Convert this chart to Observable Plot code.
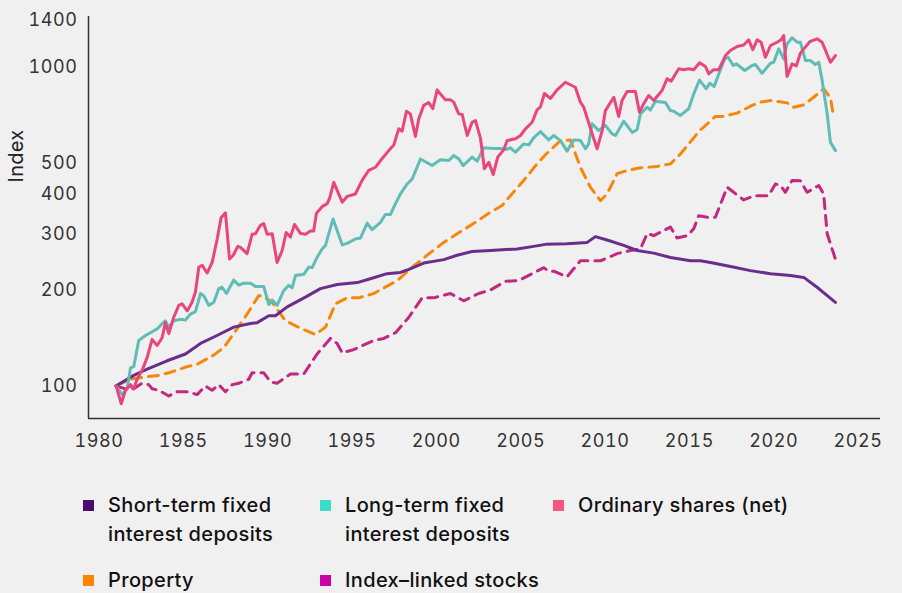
<!DOCTYPE html>
<html>
<head>
<meta charset="utf-8">
<script src="https://cdn.jsdelivr.net/npm/d3@7"></script>
<script src="https://cdn.jsdelivr.net/npm/@observablehq/plot@0.6"></script>
<style>
  html, body { margin: 0; padding: 0; background: #f0f0f0; }
  #wrap { position: relative; width: 902px; height: 593px; overflow: hidden; background: #f0f0f0; font-family: Inter, "Open Sans", sans-serif; }
  #ylab { position: absolute; left: 16px; top: 156px; transform: translate(-50%, -50%) rotate(-90deg); font-size: 20px; color: #222; white-space: nowrap; letter-spacing: 0.3px; }
  .lg { position: absolute; font-size: 20px; font-weight: 500; color: #111; line-height: 29px; letter-spacing: 0.35px; white-space: nowrap; }
  .sq { position: absolute; width: 11px; height: 11px; }
  #chart svg text { letter-spacing: 0.6px; }
</style>
</head>
<body>
<div id="wrap">
  <div id="chart"></div>
  <div id="ylab">Index</div>
  <div id="legend"></div>
</div>
<script>
// ---- Tick labels ----
const xTicks = [1980, 1985, 1990, 1995, 2000, 2005, 2010, 2015, 2020, 2025];
const yTicks = [100, 200, 300, 400, 500, 1000, 1400];

// ---- Series: Short-term fixed interest deposits ----
const shortYears = [1981.0,1982.06,1982.86,1984.04,1985.13,1986.02,1987.0,1987.99,1988.98,1989.38,1990.07,1990.46,1991.16,1992.24,1993.13,1994.12,1995.31,1996.09,1997.08,1997.87,1998.27,1999.25,2000.44,2001.23,2002.12,2003.21,2004.79,2005.77,2006.47,2007.75,2008.94,2009.43,2010.12,2011.11,2011.9,2012.89,2013.88,2015.07,2015.66,2016.25,2017.44,2018.62,2019.81,2020.99,2021.78,2022.57,2023.17,2023.66];
const shortValues = [100,108,113,120,126,136,144,153,157,158,166,166,177,190,202,208,211,217,225,227,231,243,249,257,264,266,269,274,278,279,282,294,287,276,266,261,253,247,247,244,237,230,225,222,219,204,192,183];

// ---- Series: Long-term fixed interest deposits ----
const longYears = [1981.02,1981.38,1981.67,1981.87,1982.06,1982.36,1982.76,1983.15,1983.45,1983.75,1983.94,1984.14,1984.43,1984.83,1985.13,1985.42,1985.72,1986.02,1986.21,1986.51,1986.81,1987.1,1987.3,1987.56,1987.99,1988.29,1988.58,1988.98,1989.28,1989.77,1990.07,1990.27,1990.56,1990.95,1991.25,1991.45,1991.65,1992.14,1992.44,1992.64,1992.93,1993.23,1993.43,1993.62,1993.88,1994.12,1994.42,1994.71,1995.2,1995.5,1995.9,1996.19,1996.69,1996.98,1997.28,1997.58,1997.87,1998.27,1998.57,1999.06,1999.75,2000.24,2000.74,2001.03,2001.33,2001.59,2002.12,2002.42,2002.81,2003.4,2003.8,2004.1,2004.39,2004.69,2005.18,2005.48,2005.77,2006.17,2006.66,2006.96,2007.36,2007.75,2008.15,2008.54,2008.84,2009.03,2009.23,2009.63,2010.02,2010.42,2010.62,2011.11,2011.61,2011.9,2012.1,2012.5,2012.69,2012.99,2013.58,2013.88,2014.07,2014.47,2014.96,2015.26,2015.6,2016.0,2016.21,2016.47,2016.71,2017.1,2017.3,2017.6,2017.79,2018.28,2018.72,2018.92,2019.31,2019.81,2020.0,2020.3,2020.59,2020.79,2021.09,2021.39,2021.58,2021.88,2022.17,2022.47,2022.67,2022.87,2023.17,2023.36,2023.66];
const longValues = [100,94,98,114,115,139,144,148,151,157,160,153,160,162,161,168,171,195,192,179,183,202,204,195,215,207,210,210,205,205,180,186,179,199,207,203,222,224,236,235,253,269,276,300,334,307,277,280,289,291,324,309,326,345,345,373,400,430,446,515,491,512,509,528,515,491,522,507,558,555,555,551,558,541,574,570,600,627,591,610,588,545,591,588,554,574,664,632,656,617,610,676,624,636,713,748,733,781,774,730,727,705,740,824,910,855,890,869,941,1061,1073,1011,1023,975,1011,1018,956,1028,1035,1140,1061,1182,1235,1196,1196,1048,1048,1018,1035,907,713,581,547];

// ---- Series: Ordinary shares (net) ----
const sharesYears = [1981.02,1981.32,1981.57,1981.87,1982.06,1982.26,1982.56,1982.86,1983.15,1983.45,1983.75,1983.94,1984.14,1984.43,1984.73,1984.93,1985.23,1985.52,1985.72,1985.92,1986.12,1986.41,1986.71,1987.01,1987.24,1987.5,1987.74,1987.96,1988.23,1988.39,1988.78,1989.08,1989.28,1989.57,1989.77,1989.97,1990.27,1990.56,1990.86,1991.1,1991.35,1991.59,1991.94,1992.24,1992.54,1992.73,1992.89,1993.23,1993.53,1993.68,1993.92,1994.42,1994.71,1995.2,1995.6,1995.99,1996.39,1996.69,1997.18,1997.48,1997.77,1997.97,1998.23,1998.46,1998.76,1998.96,1999.25,1999.55,1999.79,2000.05,2000.24,2000.54,2000.84,2001.03,2001.33,2001.53,2001.83,2002.12,2002.32,2002.62,2002.85,2003.11,2003.37,2003.64,2004.0,2004.2,2004.69,2004.99,2005.28,2005.68,2005.97,2006.17,2006.41,2006.76,2007.16,2007.65,2008.24,2008.54,2008.74,2009.24,2009.53,2009.83,2010.02,2010.52,2010.81,2011.01,2011.31,2011.8,2012.04,2012.29,2012.59,2012.89,2013.38,2013.68,2013.92,2014.37,2014.66,2014.96,2015.26,2015.61,2015.95,2016.15,2016.44,2016.74,2017.14,2017.43,2017.83,2018.22,2018.52,2018.76,2019.02,2019.25,2019.51,2019.81,2020.2,2020.44,2020.59,2020.79,2021.09,2021.34,2021.58,2021.78,2022.17,2022.57,2022.87,2023.36,2023.66];
const sharesValues = [100,88,97,101,98,105,112,123,140,134,142,158,146,164,179,181,172,183,197,236,239,226,244,289,337,349,250,257,274,272,260,299,300,319,323,299,300,244,266,303,293,321,301,299,306,306,348,365,373,389,435,377,393,400,441,474,485,509,547,570,640,629,727,713,606,688,758,774,740,848,824,789,789,776,713,710,610,671,680,596,480,503,460,522,551,588,596,610,640,671,734,750,826,797,848,896,864,776,748,617,554,632,730,804,700,785,838,838,722,767,814,785,844,919,903,987,981,987,981,1031,1004,952,981,981,1086,1127,1160,1172,1217,1133,1217,1196,1073,1168,1196,1217,1255,934,1023,1008,1105,1140,1204,1226,1196,1035,1086];

// ---- Series: Property ----
const propertyYears = [1981.02,1981.87,1982.86,1983.54,1984.14,1985.23,1985.82,1986.8,1987.4,1987.99,1988.78,1989.47,1989.67,1990.27,1991.06,1992.05,1992.83,1993.43,1994.02,1994.71,1995.4,1996.29,1997.68,1998.46,1999.45,2000.44,2001.23,2002.32,2003.21,2003.9,2004.39,2005.18,2005.97,2006.47,2007.36,2007.95,2008.54,2009.13,2009.73,2010.12,2010.72,2011.31,2012.1,2013.09,2013.88,2014.47,2015.66,2015.85,2016.54,2016.94,2017.83,2018.72,2019.21,2019.81,2020.79,2021.19,2021.78,2022.37,2022.96,2023.36,2023.56];
const propertyValues = [100,105,107,108,110,115,117,125,132,146,168,192,192,183,160,151,145,153,181,189,189,195,214,233,257,282,300,326,351,368,395,441,497,531,588,590,485,420,381,400,463,474,483,488,497,534,636,648,700,700,717,758,776,785,772,748,761,804,855,801,693];

// ---- Series: Index-linked stocks ----
const indexYears = [1981.02,1981.57,1982.06,1982.56,1982.95,1983.15,1983.54,1984.14,1984.64,1985.23,1985.82,1986.31,1986.71,1987.1,1987.5,1987.9,1988.29,1988.88,1989.08,1989.77,1990.17,1990.56,1991.35,1992.14,1992.93,1993.72,1994.12,1994.42,1995.1,1996.29,1996.88,1997.58,1998.36,1999.16,1999.85,2000.84,2001.62,2002.51,2003.21,2004.1,2004.88,2005.68,2006.37,2006.66,2006.96,2007.75,2008.54,2009.73,2010.72,2011.51,2012.1,2012.5,2012.89,2013.88,2014.27,2014.87,2015.26,2015.55,2016.05,2016.54,2017.24,2017.63,2018.22,2018.82,2019.7,2020.1,2020.4,2020.69,2021.09,2021.58,2021.98,2022.67,2022.96,2023.17,2023.36,2023.66];
const indexValues = [100,98,98,102,101,98,97,93,96,96,94,100,97,101,96,101,102,105,110,110,103,102,109,109,126,141,136,127,130,139,141,147,164,189,189,195,185,195,200,213,214,225,235,229,229,220,247,247,260,266,269,301,296,315,291,296,311,342,338,338,420,405,383,395,395,430,425,405,441,440,405,425,400,300,279,250];

// ---- Legend / series names and colours ----
const seriesNames = ["Short-term fixed\ninterest deposits", "Long-term fixed\ninterest deposits", "Ordinary shares (net)", "Property", "Index–linked stocks"];
const lineColors = ["#6a2d8c", "#5fbcb6", "#e8467c", "#f5880a", "#c1287f"];
const legendColors = ["#4b0a6c", "#3edbc9", "#f5567f", "#ff8400", "#cc00a6"];

const zip = (ys, vs) => ys.map((year, i) => ({year, value: vs[i]}));
const shortData = zip(shortYears, shortValues);
const longData = zip(longYears, longValues);
const sharesData = zip(sharesYears, sharesValues);
const propertyData = zip(propertyYears, propertyValues);
const indexData = zip(indexYears, indexValues);

const xDomain = [1979.38, 2026.33];
const yDomain = [79.1, 1440];

const chart = Plot.plot({
  width: 902,
  height: 450,
  marginLeft: 88,
  marginRight: 22,
  marginTop: 16,
  marginBottom: 32,
  style: {background: "transparent", fontFamily: "Inter, 'Open Sans', sans-serif", fontSize: "18px", color: "#333", overflow: "visible"},
  x: {domain: xDomain, ticks: xTicks, tickFormat: d => String(d), tickSize: 0, tickPadding: 16, label: null},
  y: {type: "log", domain: yDomain, ticks: yTicks, tickFormat: d => String(d), tickSize: 0, tickPadding: 11, label: null},
  marks: [
    Plot.line(indexData, {x: "year", y: "value", stroke: lineColors[4], strokeWidth: 3, strokeDasharray: "10,7", strokeLinejoin: "round"}),
    Plot.line(propertyData, {x: "year", y: "value", stroke: lineColors[3], strokeWidth: 3, strokeDasharray: "10,7", strokeLinejoin: "round"}),
    Plot.line(shortData, {x: "year", y: "value", stroke: lineColors[0], strokeWidth: 3, strokeLinejoin: "round"}),
    Plot.line(longData, {x: "year", y: "value", stroke: lineColors[1], strokeWidth: 3, strokeLinejoin: "round"}),
    Plot.line(sharesData, {x: "year", y: "value", stroke: lineColors[2], strokeWidth: 3, strokeLinejoin: "round"}),
    Plot.ruleX([xDomain[0]], {stroke: "#333", strokeWidth: 1.5}),
    Plot.ruleY([yDomain[0]], {stroke: "#333", strokeWidth: 1.5})
  ]
});
document.getElementById("chart").appendChild(chart);

// ---- Legend ----
const legendPos = [[83, 491], [320, 491], [553, 491], [83, 566], [320, 566]];
const legend = document.getElementById("legend");
seriesNames.forEach((name, i) => {
  const [lx, ly] = legendPos[i];
  const sq = document.createElement("div");
  sq.className = "sq";
  sq.style.left = lx + "px";
  sq.style.top = (ly + 9) + "px";
  sq.style.background = legendColors[i];
  legend.appendChild(sq);
  const t = document.createElement("div");
  t.className = "lg";
  t.style.left = (lx + 25) + "px";
  t.style.top = ly + "px";
  name.split("\n").forEach((line, j) => {
    if (j) t.appendChild(document.createElement("br"));
    t.appendChild(document.createTextNode(line));
  });
  legend.appendChild(t);
});
</script>
</body>
</html>
